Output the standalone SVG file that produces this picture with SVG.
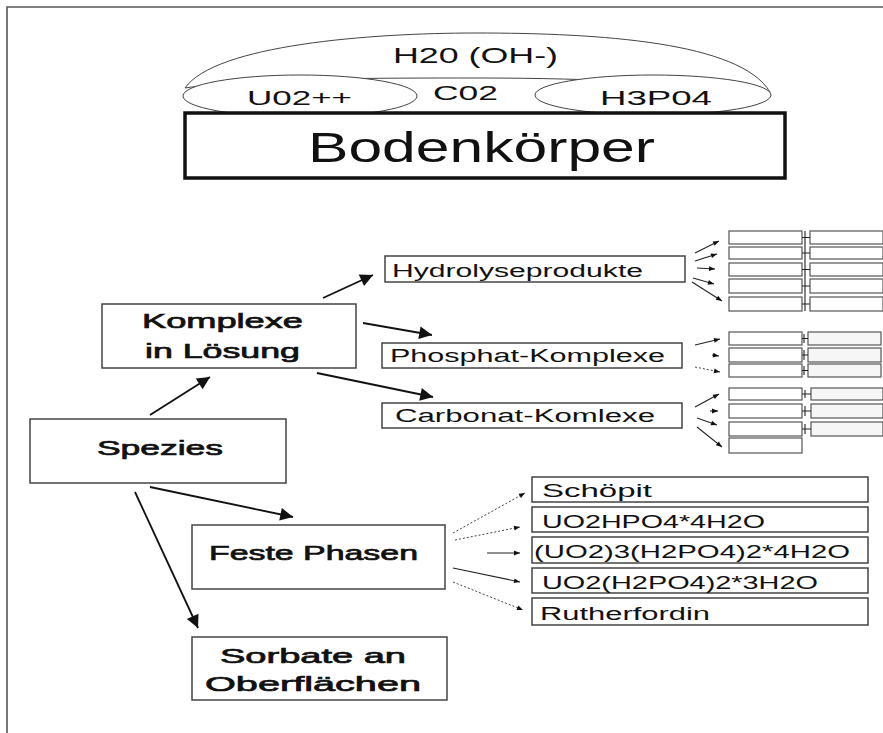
<svg xmlns="http://www.w3.org/2000/svg" width="883" height="733" viewBox="0 0 883 733">
<style>
text{font-family:"Liberation Sans",Arial,sans-serif;fill:#111}
.b{font-size:21px;stroke:#111;stroke-width:0.7}
.m{font-size:18px}
.s{font-size:18px}
.box{fill:#fff;stroke:#444;stroke-width:1.5}
.sb{fill:#fff;stroke:#555;stroke-width:1.2}
.sg{fill:#f6f6f6;stroke:#555;stroke-width:1.2}
.ln{stroke:#111;stroke-width:1.8;fill:none}
.th{stroke:#222;stroke-width:1.1;fill:none}
.dt{stroke:#444;stroke-width:1;fill:none;stroke-dasharray:2 2}
.ell{fill:#fff;stroke:#444;stroke-width:1}
</style>
<defs>
<marker id="big" viewBox="0 0 10 10" refX="10" refY="5" markerWidth="8" markerHeight="8" markerUnits="userSpaceOnUse" orient="auto" style="overflow:visible">
<path d="M0,0 L10,5 L0,10 z" fill="#111" transform="scale(1.6) translate(-3.7,-1.9)"/>
</marker>
<marker id="sm" viewBox="0 0 10 10" refX="10" refY="5" markerWidth="7" markerHeight="6" markerUnits="userSpaceOnUse" orient="auto">
<path d="M0,1 L10,5 L0,9 z" fill="#111"/>
</marker>
</defs>
<rect width="883" height="733" fill="#fff"/>
<g id="frame"><path d="M7,733 V7 H883" fill="none" stroke="#555" stroke-width="1.6"/></g>

<g id="h2o">
<path class="ell" d="M185,88 C215,45 370,33 476,33 C600,33 740,42 770,92 C700,84 600,78 476,78 C380,78 250,78 185,88 Z"/>
<text x="393" y="63" style="font-size:22px" textLength="165" lengthAdjust="spacingAndGlyphs">H20  (OH-)</text>
</g>
<g id="uo2"><ellipse class="ell" cx="300" cy="96" rx="117" ry="21"/>
<text x="247" y="105" style="font-size:21px" textLength="105" lengthAdjust="spacingAndGlyphs">U02++</text></g>
<g id="co2"><text x="433" y="100" style="font-size:21px" textLength="65" lengthAdjust="spacingAndGlyphs">C02</text></g>
<g id="h3po4"><ellipse class="ell" cx="653" cy="95" rx="118" ry="20"/>
<text x="600" y="105" style="font-size:21px" textLength="112" lengthAdjust="spacingAndGlyphs">H3P04</text></g>
<g id="bodenkoerper"><rect x="185" y="113" width="600" height="65" fill="#fff" stroke="#111" stroke-width="3.5"/>
<text x="308" y="162" style="font-size:42px" textLength="347" lengthAdjust="spacingAndGlyphs">Bodenkörper</text></g>

<g id="komplexe"><rect class="box" x="102" y="304" width="254" height="64"/>
<text class="b" x="142" y="328" textLength="161" lengthAdjust="spacingAndGlyphs">Komplexe</text>
<text class="b" x="145" y="358" textLength="155" lengthAdjust="spacingAndGlyphs">in Lösung</text></g>
<g id="spezies"><rect class="box" x="30" y="419" width="256" height="64"/>
<text class="b" x="97" y="455" textLength="126" lengthAdjust="spacingAndGlyphs">Spezies</text></g>
<g id="feste"><rect class="box" x="192" y="525" width="253" height="64"/>
<text class="b" x="209" y="560" textLength="209" lengthAdjust="spacingAndGlyphs">Feste Phasen</text></g>
<g id="sorbate"><rect class="box" x="192" y="637" width="255" height="63"/>
<text class="b" x="220" y="663" textLength="186" lengthAdjust="spacingAndGlyphs">Sorbate an</text>
<text class="b" x="205" y="691" textLength="216" lengthAdjust="spacingAndGlyphs">Oberflächen</text></g>

<g id="hydro"><rect class="box" x="385" y="256" width="300" height="26"/>
<text class="m" x="392" y="277" textLength="251" lengthAdjust="spacingAndGlyphs">Hydrolyseprodukte</text></g>
<g id="phosphat"><rect class="box" x="382" y="343" width="300" height="25"/>
<text class="m" x="390" y="362" textLength="275" lengthAdjust="spacingAndGlyphs">Phosphat-Komplexe</text></g>
<g id="carbonat"><rect class="box" x="382" y="403" width="300" height="25"/>
<text class="m" x="395" y="422" textLength="260" lengthAdjust="spacingAndGlyphs">Carbonat-Komlexe</text></g>

<g id="schoepit"><rect class="box" x="532" y="477" width="336" height="25"/>
<text class="s" x="542" y="497" textLength="110" lengthAdjust="spacingAndGlyphs">Schöpit</text></g>
<g id="uo2hpo4"><rect class="box" x="532" y="507" width="336" height="25"/>
<text class="s" x="542" y="528" textLength="223" lengthAdjust="spacingAndGlyphs">UO2HPO4*4H2O</text></g>
<g id="uo23"><rect class="box" x="532" y="537" width="336" height="26"/>
<text class="s" x="534" y="558" textLength="316" lengthAdjust="spacingAndGlyphs">(UO2)3(H2PO4)2*4H2O</text></g>
<g id="uo2h2po4"><rect class="box" x="532" y="568" width="336" height="25"/>
<text class="s" x="542" y="589" textLength="276" lengthAdjust="spacingAndGlyphs">UO2(H2PO4)2*3H2O</text></g>
<g id="rutherfordin"><rect class="box" x="532" y="598" width="336" height="27"/>
<text class="s" x="540" y="620" textLength="170" lengthAdjust="spacingAndGlyphs">Rutherfordin</text></g>

<g id="hydro-table">
<rect class="sb" x="729" y="231" width="73" height="13"/><rect class="sb" x="810" y="231" width="73" height="13"/>
<rect class="sb" x="729" y="247" width="73" height="12"/><rect class="sb" x="810" y="247" width="73" height="12"/>
<rect class="sb" x="729" y="263" width="73" height="13"/><rect class="sb" x="810" y="263" width="73" height="13"/>
<rect class="sb" x="729" y="279" width="73" height="14"/><rect class="sb" x="810" y="279" width="73" height="14"/>
<rect class="sb" x="729" y="297" width="73" height="14"/><rect class="sb" x="810" y="297" width="73" height="14"/>
<path class="th" d="M805,231 V311 M802,237.5 H810 M802,253 H810 M802,269.5 H810 M802,286 H810 M802,304 H810"/>
</g>
<g id="phos-table">
<rect class="sb" x="729" y="332" width="73" height="13"/><rect class="sg" x="808" y="332" width="73" height="13"/>
<rect class="sb" x="729" y="348" width="73" height="14"/><rect class="sg" x="808" y="348" width="73" height="14"/>
<rect class="sb" x="729" y="364" width="73" height="13"/><rect class="sg" x="808" y="364" width="73" height="13"/>
<path class="th" d="M804,334 V343 M804,350 V360 M804,366 V375 M802,338.5 H808 M802,355 H808 M802,370.5 H808"/>
</g>
<g id="carb-table">
<rect class="sb" x="729" y="388" width="73" height="12"/><rect class="sg" x="811" y="388" width="72" height="12"/>
<rect class="sb" x="729" y="404" width="73" height="14"/><rect class="sg" x="811" y="404" width="72" height="14"/>
<rect class="sb" x="729" y="422" width="73" height="14"/><rect class="sg" x="811" y="422" width="72" height="14"/>
<rect class="sb" x="729" y="438" width="73" height="15"/>
<path class="th" d="M805,390 V398 M805,406 V416 M805,424 V434 M802,394 H811 M802,411 H811 M802,429 H811"/>
</g>

<g id="connectors">
<line class="ln" x1="150" y1="415" x2="210" y2="377" marker-end="url(#big)"/>
<line class="ln" x1="323" y1="298" x2="373" y2="275" marker-end="url(#big)"/>
<line class="ln" x1="363" y1="323" x2="432" y2="335" marker-end="url(#big)"/>
<line class="ln" x1="317" y1="373" x2="433" y2="397" marker-end="url(#big)"/>
<line class="ln" x1="150" y1="487" x2="293" y2="517" marker-end="url(#big)"/>
<line class="ln" x1="135" y1="492" x2="198" y2="628" marker-end="url(#big)"/>

<line class="th" x1="695" y1="253" x2="719" y2="241" marker-end="url(#sm)"/>
<line class="th" x1="695" y1="261" x2="717" y2="254" marker-end="url(#sm)"/>
<line class="th" x1="697" y1="268" x2="715" y2="269" marker-end="url(#sm)"/>
<line class="th" x1="693" y1="278" x2="714" y2="284" marker-end="url(#sm)"/>
<line class="th" x1="692" y1="282" x2="722" y2="301" marker-end="url(#sm)"/>

<line class="th" x1="695" y1="345" x2="720" y2="339" marker-end="url(#sm)"/>
<line class="th" x1="712" y1="355" x2="719" y2="356" marker-end="url(#sm)"/>
<line class="dt" x1="695" y1="367" x2="720" y2="372" marker-end="url(#sm)"/>

<line class="th" x1="695" y1="407" x2="719" y2="394" marker-end="url(#sm)"/>
<line class="th" x1="710" y1="411" x2="718" y2="411" marker-end="url(#sm)"/>
<line class="th" x1="697" y1="418" x2="717" y2="425" marker-end="url(#sm)"/>
<line class="th" x1="697" y1="427" x2="722" y2="447" marker-end="url(#sm)"/>

<line class="dt" x1="453" y1="533" x2="525" y2="493" marker-end="url(#sm)"/>
<line class="dt" x1="455" y1="540" x2="520" y2="527" marker-end="url(#sm)"/>
<line class="th" x1="487" y1="553" x2="520" y2="553" marker-end="url(#sm)"/>
<line class="th" x1="453" y1="568" x2="520" y2="582" marker-end="url(#sm)"/>
<line class="dt" x1="453" y1="582" x2="523" y2="610" marker-end="url(#sm)"/>
</g>
</svg>
